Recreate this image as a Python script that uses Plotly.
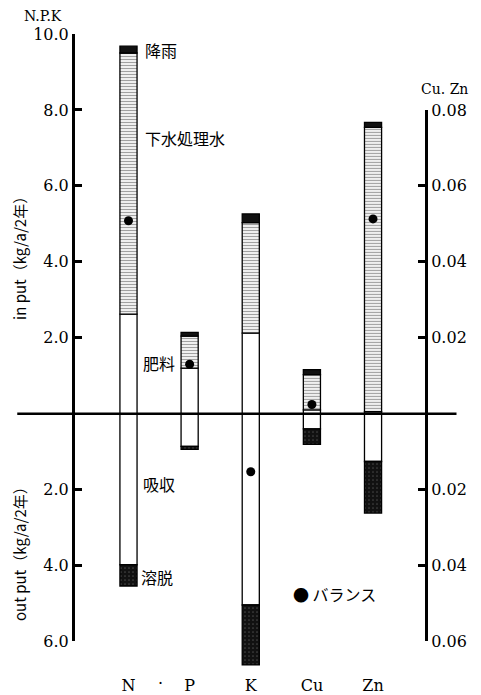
import plotly.graph_objects as go

categories = ["N", "P", "K", "Cu", "Zn"]
# N, P, K in kg/a/2年 (left axis); Cu, Zn (right axis)
fertilizer = [2.62, 1.20, 2.12, 0.0010, 0.0005]
sewage = [6.88, 0.84, 2.91, 0.0093, 0.0749]
rain = [0.18, 0.10, 0.23, 0.0013, 0.0013]
absorption = [3.98, 0.86, 5.04, 0.0040, 0.0126]
leaching = [0.56, 0.08, 1.58, 0.0041, 0.0136]
balance = [5.08, 1.30, -1.53, 0.0024, 0.0513]

left_tickvals = [-6, -4, -2, 2, 4, 6, 8, 10]
left_ticktext = ["6.0", "4.0", "2.0", "2.0", "4.0", "6.0", "8.0", "10.0"]
right_tickvals = [-0.06, -0.04, -0.02, 0.02, 0.04, 0.06, 0.08]
right_ticktext = ["0.06", "0.04", "0.02", "0.02", "0.04", "0.06", "0.08"]

SERIF = "DejaVu Serif"
CJK = "Noto Sans CJK JP"

fig = go.Figure()

styles = {
    "fert": dict(color="white", line=dict(color="black", width=1.3)),
    "sew": dict(color="white", line=dict(color="black", width=1.3),
                pattern=dict(shape="-", fgcolor="#444", bgcolor="white", size=3, solidity=0.45)),
    "rain": dict(color="#111", line=dict(color="black", width=1.3)),
    "abs": dict(color="white", line=dict(color="black", width=1.3)),
    "leach": dict(color="#111", line=dict(color="black", width=1.3),
                  pattern=dict(shape=".", fgcolor="#777", bgcolor="#111", size=4, solidity=0.15)),
}

series = [("fert", fertilizer, 1), ("sew", sewage, 1), ("rain", rain, 1),
          ("abs", absorption, -1), ("leach", leaching, -1)]

# N, P, K drawn on y3 (same scale as the visible left axis y, but taller so K is not clipped)
for key, vals, sign in series:
    fig.add_trace(go.Bar(x=categories[:3], y=[sign * v for v in vals[:3]],
                         width=0.28, marker=styles[key], yaxis="y3",
                         showlegend=False, hoverinfo="skip"))
    fig.add_trace(go.Bar(x=categories[3:], y=[sign * v for v in vals[3:]],
                         width=0.28, marker=styles[key], yaxis="y2",
                         showlegend=False, hoverinfo="skip"))

fig.add_trace(go.Scatter(x=categories[:3], y=balance[:3], mode="markers", yaxis="y3",
                         marker=dict(color="black", size=9), showlegend=False,
                         cliponaxis=False))
fig.add_trace(go.Scatter(x=categories[3:], y=balance[3:], mode="markers", yaxis="y2",
                         marker=dict(color="black", size=9), showlegend=False,
                         cliponaxis=False))

YMIN, YMAX = -6.7, 10.0
span = YMAX - YMIN
d_bottom = (-6 - YMIN) / span
fig.update_layout(
    width=481, height=695,
    margin=dict(l=75, r=56, t=34, b=27, autoexpand=False),
    plot_bgcolor="rgba(0,0,0,0)", paper_bgcolor="white",
    barmode="relative",
    xaxis=dict(type="category", categoryorder="array", categoryarray=categories,
               range=[-0.875, 4.85], showline=False, showgrid=False, zeroline=False,
               ticks="", ticklabelstandoff=33, anchor="y", automargin=False,
               tickfont=dict(family=SERIF, size=16, color="black")),
    yaxis=dict(range=[-6, 10], domain=[d_bottom, 1], anchor="x", automargin=False,
               tickvals=left_tickvals, ticktext=left_ticktext,
               showline=True, linecolor="black", linewidth=3, ticks="inside",
               ticklen=7, tickwidth=2.5, tickcolor="black", showgrid=False,
               zeroline=False, tickfont=dict(family=SERIF, size=16, color="black")),
    yaxis2=dict(range=[-0.06, 0.08], domain=[d_bottom, (8 - YMIN) / span],
                anchor="x", side="right", automargin=False,
                tickvals=right_tickvals, ticktext=right_ticktext,
                showline=True, linecolor="black", linewidth=3, ticks="inside",
                ticklen=7, tickwidth=2.5, tickcolor="black", showgrid=False,
                zeroline=False, tickfont=dict(family=SERIF, size=16, color="black")),
    yaxis3=dict(range=[YMIN, YMAX], domain=[0, 1], anchor="x", visible=False,
                automargin=False, showgrid=False, zeroline=False),
    font=dict(family=SERIF, color="black"),
)

# zero line across the whole chart
fig.add_shape(type="line", xref="paper", yref="y", x0=-0.165, x1=1.09, y0=0, y1=0,
              line=dict(color="black", width=2.5))

def ann(text, x, y, size=16, family=CJK, xanchor="left", angle=0):
    fig.add_annotation(text=text, x=x, y=y, xref="paper", yref="paper", showarrow=False,
                       xanchor=xanchor, yanchor="middle", textangle=angle,
                       font=dict(family=family, size=size, color="black"))

W, H = 481, 695
L, R, T, B = 75, 56, 34, 27
pw, ph = W - L - R, H - T - B
def px(xp): return (xp - L) / pw
def py(yp): return (H - B - yp) / ph

ann("降雨", px(143), py(50))
ann("下水処理水", px(143), py(138))
ann("肥料", px(141), py(363))
ann("吸収", px(141), py(484))
ann("溶脱", px(139), py(577))
ann("● バランス", px(291), py(594))
ann("N.P.K", px(22), py(16), size=14, family=SERIF)
ann("Cu. Zn", px(419), py(89), size=14, family=SERIF)
ann("·", px(160), py(683), size=16, family=SERIF, xanchor="center")
ann("in put（kg/a/2年）", px(19), py(255), size=15, angle=-90, xanchor="center")
ann("out put（kg/a/2年）", px(19), py(550), size=15, angle=-90, xanchor="center")

fig.write_html("out.html",
               config={"displayModeBar": False},
               post_script="document.body.style.margin='0';document.body.style.overflow='hidden';")
